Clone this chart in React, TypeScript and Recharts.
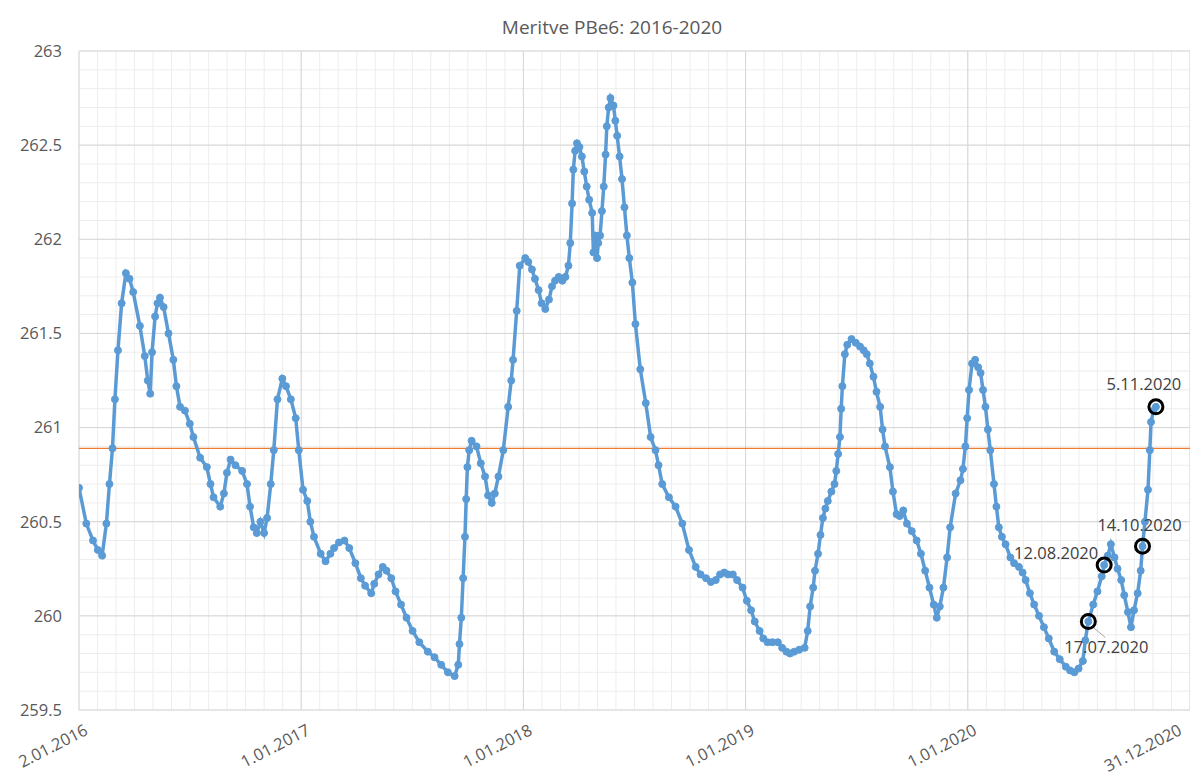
import React from 'react';
import { LineChart, Line, XAxis, YAxis, CartesianGrid, ReferenceLine, ReferenceDot } from 'recharts';

const dates: string[] = [
  "2016-01-02","2016-01-14","2016-01-25","2016-02-02","2016-02-09","2016-02-16","2016-02-21","2016-02-26","2016-03-01","2016-03-06",
  "2016-03-12","2016-03-19","2016-03-25","2016-03-31","2016-04-11","2016-04-19","2016-04-24","2016-04-28","2016-05-01","2016-05-06",
  "2016-05-10","2016-05-14","2016-05-20","2016-05-28","2016-06-05","2016-06-10","2016-06-16","2016-06-24","2016-07-02","2016-07-08",
  "2016-07-19","2016-07-30","2016-08-05","2016-08-10","2016-08-21","2016-08-27","2016-09-01","2016-09-07","2016-09-15","2016-09-26",
  "2016-10-04","2016-10-09","2016-10-15","2016-10-20","2016-10-26","2016-11-01","2016-11-06","2016-11-12","2016-11-17","2016-11-23",
  "2016-12-01","2016-12-07","2016-12-15","2016-12-23","2016-12-28",
  "2017-01-04","2017-01-11","2017-01-16","2017-01-22","2017-02-02","2017-02-10","2017-02-18","2017-02-24","2017-03-04","2017-03-13",
  "2017-03-21","2017-03-31","2017-04-09","2017-04-16","2017-04-26","2017-05-01","2017-05-08","2017-05-15","2017-05-21","2017-05-29",
  "2017-06-05","2017-06-14","2017-06-23","2017-07-03","2017-07-14","2017-07-28","2017-08-08","2017-08-19","2017-08-30","2017-09-10",
  "2017-09-16","2017-09-18","2017-09-21","2017-09-24","2017-09-27","2017-09-29","2017-10-01","2017-10-04","2017-10-08","2017-10-16",
  "2017-10-23","2017-10-30","2017-11-04","2017-11-10","2017-11-15","2017-11-21","2017-11-29","2017-12-07","2017-12-12","2017-12-15",
  "2017-12-21","2017-12-26",
  "2018-01-04","2018-01-09","2018-01-15","2018-01-20","2018-01-26","2018-01-31","2018-02-06","2018-02-12","2018-02-17","2018-02-22",
  "2018-02-28","2018-03-06","2018-03-11","2018-03-16","2018-03-19","2018-03-22","2018-03-24","2018-03-27","2018-03-30","2018-04-03",
  "2018-04-07","2018-04-11","2018-04-15","2018-04-19","2018-04-24","2018-04-26","2018-04-29","2018-05-02","2018-05-04","2018-05-07",
  "2018-05-10","2018-05-13","2018-05-16","2018-05-18","2018-05-21","2018-05-24","2018-05-29","2018-06-01","2018-06-04","2018-06-08",
  "2018-06-12","2018-06-16","2018-06-20","2018-06-24","2018-06-29","2018-07-04","2018-07-12","2018-07-21","2018-07-29","2018-08-06",
  "2018-08-11","2018-08-17","2018-08-28","2018-09-08","2018-09-19","2018-09-30","2018-10-11","2018-10-19","2018-10-28","2018-11-05",
  "2018-11-13","2018-11-20","2018-11-27","2018-12-03","2018-12-11","2018-12-18","2018-12-27",
  "2019-01-03","2019-01-10","2019-01-16","2019-01-24","2019-01-30","2019-02-06","2019-02-14","2019-02-23","2019-03-02","2019-03-09",
  "2019-03-15","2019-03-22","2019-03-30","2019-04-08","2019-04-13","2019-04-17","2019-04-22","2019-04-25","2019-04-30","2019-05-04",
  "2019-05-08","2019-05-12","2019-05-16","2019-05-22","2019-05-27","2019-05-30","2019-06-02","2019-06-05","2019-06-07","2019-06-09",
  "2019-06-13","2019-06-17","2019-06-24","2019-07-01","2019-07-08","2019-07-14","2019-07-19","2019-07-24","2019-07-30","2019-08-04",
  "2019-08-10","2019-08-14","2019-08-18","2019-08-26","2019-08-31","2019-09-06","2019-09-11","2019-09-17","2019-09-23","2019-10-01",
  "2019-10-09","2019-10-16","2019-10-23","2019-10-30","2019-11-06","2019-11-11","2019-11-16","2019-11-22","2019-11-28","2019-12-03",
  "2019-12-12","2019-12-20","2019-12-24","2019-12-28","2019-12-31",
  "2020-01-03","2020-01-08","2020-01-13","2020-01-18","2020-01-22","2020-01-26","2020-01-30","2020-02-03","2020-02-07","2020-02-13",
  "2020-02-17","2020-02-21","2020-02-26","2020-03-03","2020-03-11","2020-03-17","2020-03-25","2020-03-31","2020-04-05","2020-04-12",
  "2020-04-19","2020-04-27","2020-05-05","2020-05-13","2020-05-22","2020-05-31","2020-06-10","2020-06-17","2020-06-24","2020-07-01",
  "2020-07-08","2020-07-12","2020-07-17","2020-07-25","2020-08-01","2020-08-08","2020-08-12","2020-08-18","2020-08-23","2020-08-29",
  "2020-09-03","2020-09-09","2020-09-14","2020-09-20","2020-09-25","2020-09-30","2020-10-06","2020-10-11","2020-10-14","2020-10-18",
  "2020-10-23","2020-10-26","2020-10-28","2020-11-01","2020-11-05"
];

const levels: number[] = [
  260.68,260.49,260.40,260.35,260.32,260.49,260.70,260.89,261.15,261.41,
  261.66,261.82,261.79,261.72,261.54,261.38,261.25,261.18,261.40,261.59,
  261.66,261.69,261.64,261.50,261.36,261.22,261.11,261.09,261.02,260.95,
  260.84,260.79,260.70,260.63,260.58,260.65,260.76,260.83,260.80,260.77,
  260.70,260.58,260.47,260.44,260.50,260.44,260.52,260.70,260.88,261.15,
  261.26,261.22,261.15,261.05,260.88,
  260.67,260.61,260.50,260.42,260.33,260.29,260.33,260.36,260.39,260.40,
  260.36,260.28,260.20,260.16,260.12,260.17,260.22,260.26,260.24,260.20,
  260.13,260.06,259.99,259.92,259.86,259.81,259.78,259.74,259.70,259.68,
  259.74,259.85,259.99,260.20,260.42,260.62,260.79,260.88,260.93,260.90,
  260.81,260.74,260.64,260.60,260.65,260.74,260.88,261.11,261.25,261.36,
  261.62,261.86,
  261.90,261.88,261.84,261.79,261.73,261.66,261.63,261.68,261.75,261.78,
  261.80,261.78,261.80,261.86,261.98,262.19,262.37,262.47,262.51,262.49,
  262.44,262.36,262.28,262.21,262.14,261.93,262.02,261.90,261.98,262.02,
  262.15,262.28,262.45,262.60,262.70,262.75,262.71,262.63,262.55,262.44,
  262.32,262.17,262.02,261.90,261.77,261.55,261.31,261.13,260.95,260.88,
  260.80,260.70,260.63,260.58,260.49,260.35,260.26,260.22,260.20,260.18,
  260.19,260.22,260.23,260.22,260.22,260.19,260.15,
  260.08,260.03,259.97,259.92,259.88,259.86,259.86,259.86,259.83,259.81,
  259.80,259.81,259.82,259.83,259.92,260.05,260.15,260.24,260.33,260.43,
  260.52,260.57,260.61,260.66,260.70,260.77,260.86,260.95,261.10,261.22,
  261.39,261.44,261.47,261.45,261.43,261.41,261.39,261.34,261.27,261.19,
  261.11,260.99,260.90,260.79,260.66,260.54,260.53,260.56,260.49,260.45,
  260.40,260.33,260.24,260.15,260.06,259.99,260.05,260.15,260.31,260.47,
  260.65,260.72,260.78,260.90,261.05,
  261.20,261.34,261.36,261.32,261.29,261.20,261.11,260.99,260.88,260.70,
  260.58,260.47,260.42,260.38,260.31,260.28,260.26,260.23,260.19,260.12,
  260.06,260.00,259.94,259.88,259.81,259.77,259.73,259.71,259.70,259.72,
  259.76,259.87,259.97,260.06,260.13,260.21,260.27,260.32,260.38,260.31,
  260.25,260.19,260.11,260.02,259.94,260.03,260.12,260.24,260.37,260.50,
  260.67,260.88,261.03,261.09,261.11
];

const tickDates: string[] = ["2016-01-02","2017-01-01","2018-01-01","2019-01-01","2020-01-01","2020-12-31"];
const tickLabels: string[] = ["2.01.2016","1.01.2017","1.01.2018","1.01.2019","1.01.2020","31.12.2020"];
const yTicks: number[] = [259.5, 260, 260.5, 261, 261.5, 262, 262.5, 263];
const thresholdLevel = 260.89;

const annoDates: string[] = ["2020-07-17","2020-08-12","2020-10-14","2020-11-05"];
const annoLabels: string[] = ["17.07.2020","12.08.2020","14.10.2020","5.11.2020"];
// label offsets relative to circle centre (style only)
const annoOffsets: { dx: number; dy: number; leader?: boolean }[] = [
  { dx: 18, dy: 31, leader: true },
  { dx: -48, dy: -6 },
  { dx: -3, dy: -15 },
  { dx: -12, dy: -17 },
];

const DAY = 86400000;
const toT = (s: string) => Date.parse(s);
const data = dates.map((d, i) => ({ t: toT(d), v: levels[i] }));
const xMin = toT(tickDates[0]);
const xMax = toT(tickDates[tickDates.length - 1]);
const xTicks = tickDates.map(toT);
const minorX: number[] = [];
for (let k = 0; k <= 60; k++) minorX.push(xMin + (k * 365 * DAY) / 12);
const minorY: number[] = [];
for (let k = 0; k <= 35; k++) minorY.push(Math.round((259.5 + k * 0.1) * 10) / 10);

const FONT = '"Open Sans", "Liberation Sans", sans-serif';
const TXT = '#595959';

const XTick = (props: any) => {
  const { x, y, payload } = props;
  const idx = xTicks.indexOf(payload.value);
  const label = idx >= 0 ? tickLabels[idx] : '';
  const tx = Math.min(x + 10, 1183);
  const ty = y + 24;
  return (
    <text x={tx} y={ty} transform={`rotate(-27, ${tx}, ${ty})`} textAnchor="end" fill={TXT} fontSize={16.5} fontFamily={FONT}>
      {label}
    </text>
  );
};

const makeShape = (i: number) => (props: any) => {
  const { cx, cy } = props;
  const o = annoOffsets[i];
  return (
    <g>
      {o.leader ? <line x1={cx + 5} y1={cy + 6} x2={cx + 17} y2={cy + 16} stroke="#A6A6A6" strokeWidth={1} /> : null}
      <circle cx={cx} cy={cy} r={7} fill="none" stroke="#000" strokeWidth={3} />
      <text x={cx + o.dx} y={cy + o.dy} textAnchor="middle" fill="#404040" fontSize={16.5} fontFamily={FONT}>
        {annoLabels[i]}
      </text>
    </g>
  );
};

export default function App() {
  return (
    <div style={{ position: 'absolute', left: 0, top: 0, width: 1190, height: 778, background: '#fff' }}>
      <div
        style={{
          position: 'absolute', left: 312, top: 14, width: 600, textAlign: 'center',
          fontFamily: FONT, fontSize: 19, lineHeight: '26px', color: TXT,
        }}
      >
        Meritve PBe6: 2016-2020
      </div>
      <LineChart width={1190} height={778} data={data} margin={{ top: 51, right: 0, bottom: 38, left: 0 }}>
        <CartesianGrid stroke="#EDEDED" strokeWidth={1} verticalValues={minorX} horizontalValues={minorY} />
        <CartesianGrid stroke="#D6D6D6" strokeWidth={1} verticalValues={xTicks} horizontalValues={yTicks} />
        <XAxis
          dataKey="t"
          type="number"
          domain={[xMin, xMax]}
          ticks={xTicks}
          interval={0}
          allowDataOverflow
          height={30}
          axisLine={false}
          tickLine={false}
          tickSize={0}
          tickMargin={0}
          tick={<XTick />}
        />
        <YAxis
          type="number"
          domain={[259.5, 263]}
          ticks={yTicks}
          interval={0}
          allowDataOverflow
          width={79}
          axisLine={false}
          tickLine={false}
          tickSize={0}
          tickMargin={17}
          tick={{ fill: TXT, fontSize: 16.5, fontFamily: FONT }}
        />
        <ReferenceLine y={thresholdLevel} stroke="#ED7D31" strokeWidth={1.25} ifOverflow="extendDomain" />
        <Line
          dataKey="v"
          type="linear"
          stroke="#5B9BD5"
          strokeWidth={3.5}
          dot={{ r: 3.5, fill: '#5B9BD5', stroke: '#5B9BD5', strokeWidth: 1 }}
          isAnimationActive={false}
        />
        {annoDates.map((d, i) => {
          const t = toT(d);
          const idx = dates.indexOf(d);
          return <ReferenceDot key={d} x={t} y={levels[idx]} r={7} shape={makeShape(i)} />;
        })}
      </LineChart>
    </div>
  );
}
